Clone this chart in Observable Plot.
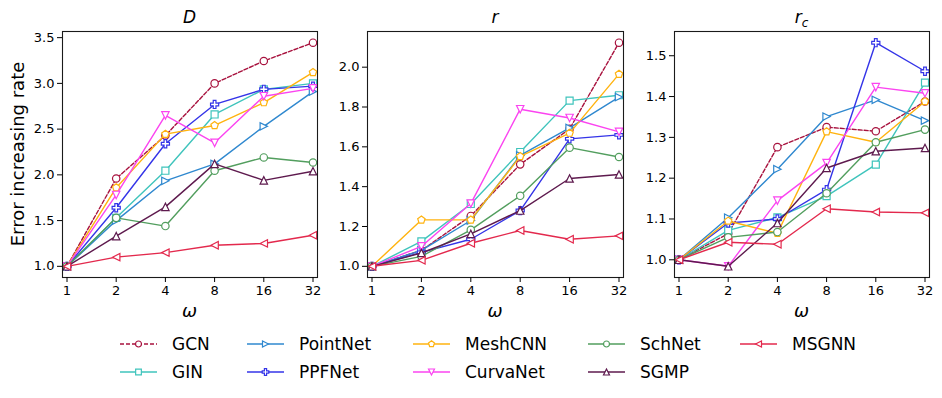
<!DOCTYPE html>
<html>
<head>
<meta charset="utf-8">
<script src="https://cdn.jsdelivr.net/npm/d3@7"></script>
<script src="https://cdn.jsdelivr.net/npm/@observablehq/plot@0.6"></script>
<style>
  body { margin: 0; background: #fff; }
  #fig { position: relative; width: 942px; height: 398px; font-family: "DejaVu Sans", sans-serif; background: #fff; }
  #fig svg { position: absolute; top: 0; }
</style>
</head>
<body>
<div id="fig"></div>
<script>
// ---------- data ----------
const omega = [1, 2, 4, 8, 16, 32];
const methods = ["GCN", "GIN", "PointNet", "PPFNet", "MeshCNN", "CurvaNet", "SchNet", "SGMP", "MSGNN"];
const panelTitles = ["D", "r", "r_c"];

// order follows `methods`
const valuesD = [
  [1.0, 1.96, 2.43, 3.00, 3.245, 3.445],  // GCN
  [1.0, 1.53, 2.045, 2.66, 2.935, 3.00],  // GIN
  [1.0, 1.50, 1.935, 2.12, 2.53, 2.91],   // PointNet
  [1.0, 1.64, 2.34, 2.77, 2.935, 2.97],   // PPFNet
  [1.0, 1.86, 2.445, 2.54, 2.79, 3.12],   // MeshCNN
  [1.0, 1.78, 2.65, 2.35, 2.86, 2.945],   // CurvaNet
  [1.0, 1.53, 1.44, 2.045, 2.19, 2.135],  // SchNet
  [1.0, 1.33, 1.65, 2.12, 1.94, 2.04],    // SGMP
  [1.0, 1.10, 1.15, 1.23, 1.25, 1.34]     // MSGNN
];
const valuesR = [
  [1.0, 1.08, 1.253, 1.512, 1.69, 2.123],
  [1.0, 1.125, 1.313, 1.574, 1.832, 1.859],
  [1.0, 1.08, 1.23, 1.557, 1.695, 1.85],
  [1.0, 1.07, 1.136, 1.28, 1.64, 1.66],
  [1.0, 1.233, 1.233, 1.552, 1.669, 1.965],
  [1.0, 1.10, 1.315, 1.789, 1.745, 1.675],
  [1.0, 1.05, 1.183, 1.354, 1.596, 1.549],
  [1.0, 1.067, 1.163, 1.28, 1.441, 1.461],
  [1.0, 1.03, 1.116, 1.18, 1.136, 1.153]
];
const valuesRc = [
  [1.0, 1.064, 1.276, 1.325, 1.315, 1.388],
  [1.0, 1.072, 1.104, 1.156, 1.233, 1.434],
  [1.0, 1.103, 1.222, 1.351, 1.392, 1.341],
  [1.0, 1.09, 1.10, 1.172, 1.532, 1.462],
  [1.0, 1.095, 1.065, 1.314, 1.288, 1.388],
  [1.0, 0.984, 1.145, 1.237, 1.423, 1.408],
  [1.0, 1.055, 1.068, 1.163, 1.288, 1.319],
  [1.0, 0.984, 1.09, 1.225, 1.266, 1.274],
  [1.0, 1.043, 1.038, 1.125, 1.117, 1.115]
];
const yTicksD = [1.0, 1.5, 2.0, 2.5, 3.0, 3.5];
const yTicksR = [1.0, 1.2, 1.4, 1.6, 1.8, 2.0];
const yTicksRc = [1.0, 1.1, 1.2, 1.3, 1.4, 1.5];
const yLabel = "Error increasing rate";
const xLabel = "ω";

// ---------- styles ----------
const colors = ["#a8123e", "#3fc4bc", "#2f88cf", "#3434e8", "#ffb30f", "#fb44f0", "#529e5e", "#5e1a4e", "#e3294d"];

function poly(fn) {
  return { draw(ctx, size) {
    const r = Math.sqrt(size / Math.PI);
    const p = fn(r);
    ctx.moveTo(p[0][0], p[0][1]);
    for (let k = 1; k < p.length; k++) ctx.lineTo(p[k][0], p[k][1]);
    ctx.closePath();
  }};
}
const symSquare = poly(r => { const a = r * 0.95; return [[-a,-a],[a,-a],[a,a],[-a,a]]; });
const symTriRight = poly(r => { const h = r; return [[h,0],[-h,-h],[-h,h]]; });
const symTriLeft = poly(r => { const h = r; return [[-h,0],[h,-h],[h,h]]; });
const symTriDown = poly(r => { const h = r; return [[0,h],[-h,-h],[h,-h]]; });
const symTriUp = poly(r => { const h = r; return [[0,-h],[-h,h],[h,h]]; });
const symPentagon = poly(r => d3.range(5).map(k => { const a = (-90 + 72 * k) * Math.PI / 180; return [r * 1.05 * Math.cos(a), r * 1.05 * Math.sin(a)]; }));
const symPlus = poly(r => { const s = r * 1.1, t = s / 3;
  return [[-t,-s],[t,-s],[t,-t],[s,-t],[s,t],[t,t],[t,s],[-t,s],[-t,t],[-s,t],[-s,-t],[-t,-t]]; });
const symbols = [d3.symbolCircle, symSquare, symTriRight, symPlus, symPentagon, symTriDown, d3.symbolCircle, symTriUp, symTriLeft];

const H = 325, MT = 31, MB = 48;
const layouts = [
  { left: 0,   width: 330, mL: 62, mR: 13 },
  { left: 330, width: 305, mL: 37, mR: 12 },
  { left: 635, width: 307, mL: 39, mR: 13 }
];
const allValues = [valuesD, valuesR, valuesRc];
const allTicks = [yTicksD, yTicksR, yTicksRc];

const fig = document.getElementById("fig");

allValues.forEach((values, pi) => {
  const L = layouts[pi];
  const rows = [];
  methods.forEach((m, i) => omega.forEach((w, j) => rows.push({ m, i, w, v: values[i][j] })));
  const lo = d3.min(rows, d => d.v), hi = d3.max(rows, d => d.v), pad = (hi - lo) * 0.05;
  const marks = [];
  methods.forEach((m, i) => {
    const data = rows.filter(d => d.i === i);
    marks.push(Plot.line(data, { x: "w", y: "v", stroke: colors[i], strokeWidth: 1.4,
      strokeDasharray: i === 0 ? "4,2" : undefined }));
    marks.push(Plot.dot(data, { x: "w", y: "v", stroke: colors[i], fill: "white", r: 3.7,
      strokeWidth: 1.2, symbol: symbols[i] }));
  });
  const svg = Plot.plot({
    width: L.width, height: H,
    marginLeft: L.mL, marginRight: L.mR, marginTop: MT, marginBottom: MB,
    style: { fontFamily: "DejaVu Sans, sans-serif", fontSize: "13px", color: "black", background: "transparent", overflow: "visible" },
    x: { type: "log", base: 2, domain: [1, 32], inset: 4.5 },
    y: { domain: [lo - pad, hi + pad] },
    marks: [
      ...marks,
      Plot.frame({ stroke: "#1a1a1a", strokeWidth: 1.1 }),
      Plot.axisX({ ticks: omega, tickFormat: d => String(d), tickSize: 5, tickPadding: 3, label: null, fontSize: 13 }),
      Plot.axisY({ ticks: allTicks[pi], tickFormat: d3.format(".1f"), tickSize: 5, tickPadding: 3, label: null, fontSize: 13 })
    ]
  });
  svg.style.left = L.left + "px";
  const s = d3.select(svg);
  const cx = L.mL + (L.width - L.mL - L.mR) / 2;
  // title
  const t = s.append("text").attr("x", cx).attr("y", 23).attr("text-anchor", "middle")
    .style("font-style", "italic").style("font-size", "17px").attr("fill", "black");
  const title = panelTitles[pi];
  if (title.includes("_")) {
    const [base, sub] = title.split("_");
    t.append("tspan").text(base);
    t.append("tspan").attr("dy", "0.3em").style("font-size", "12px").text(sub);
  } else {
    t.text(title);
  }
  // x label
  s.append("text").attr("x", cx).attr("y", 317).attr("text-anchor", "middle")
    .style("font-style", "italic").style("font-size", "18px").attr("fill", "black").text(xLabel);
  // y label
  if (pi === 0) {
    s.append("text").attr("transform", `translate(24,${(MT + H - MB) / 2}) rotate(-90)`)
      .attr("text-anchor", "middle").style("font-size", "18px").attr("fill", "black").text(yLabel);
  }
  fig.appendChild(svg);
});

// ---------- legend ----------
const legCols = [120, 247, 413, 588, 740];
const legRows = [344, 372];
const leg = d3.select(fig).append("svg").attr("width", 942).attr("height", 398)
  .style("left", "0px").style("top", "0px").style("pointer-events", "none");
methods.forEach((m, i) => {
  const x0 = legCols[Math.floor(i / 2)], y0 = legRows[i % 2];
  const g = leg.append("g");
  g.append("line").attr("x1", x0).attr("x2", x0 + 37).attr("y1", y0).attr("y2", y0)
    .attr("stroke", colors[i]).attr("stroke-width", 1.4)
    .attr("stroke-dasharray", i === 0 ? "4,2" : null);
  g.append("path").attr("d", d3.symbol(symbols[i], 3 * 3 * Math.PI)())
    .attr("transform", `translate(${x0 + 18.5},${y0})`)
    .attr("fill", "white").attr("stroke", colors[i]).attr("stroke-width", 1.2);
  g.append("text").attr("x", x0 + 52).attr("y", y0).attr("dy", "0.36em")
    .style("font-family", "DejaVu Sans, sans-serif").style("font-size", "17px").attr("fill", "black").text(m);
});
</script>
</body>
</html>
